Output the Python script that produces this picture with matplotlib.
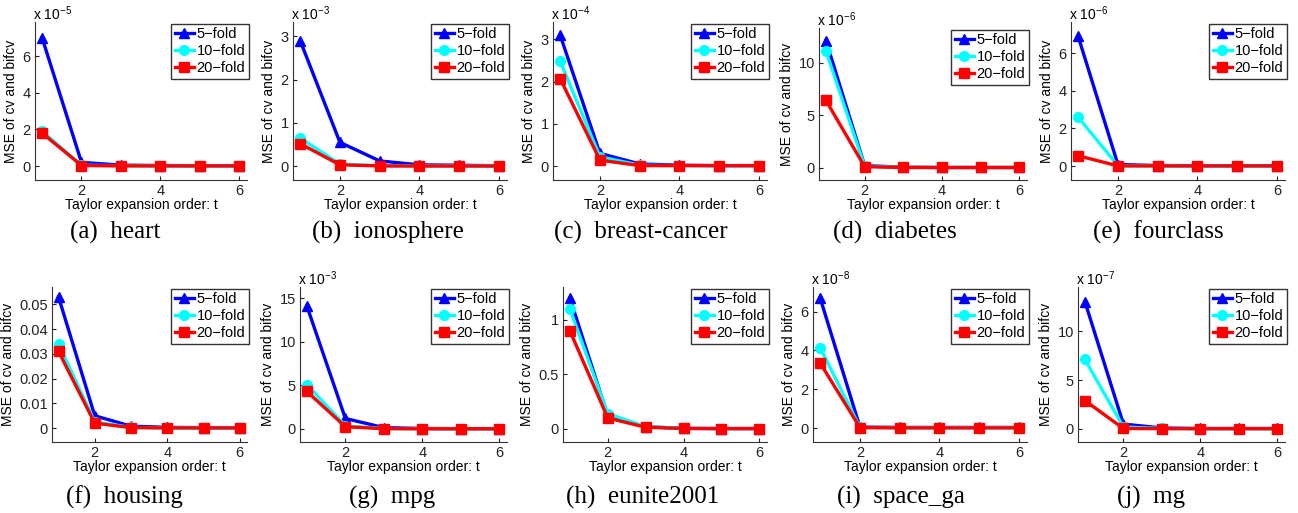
import numpy as np
import matplotlib
matplotlib.use("Agg")
import matplotlib.pyplot as plt
from matplotlib.ticker import FormatStrFormatter

plt.rcParams["font.family"] = ["Liberation Sans", "DejaVu Sans"]
plt.rcParams["mathtext.fontset"] = "custom"
plt.rcParams["mathtext.rm"] = "Liberation Sans"

# Taylor expansion order
orders = [1, 2, 3, 4, 5, 6]

datasets = ["heart", "ionosphere", "breast-cancer", "diabetes", "fourclass",
            "housing", "mpg", "eunite2001", "space_ga", "mg"]
letters = ["a", "b", "c", "d", "e", "f", "g", "h", "i", "j"]
# values below are given in units of 10^exponent
exponents = [-5, -3, -4, -6, -6, 0, -3, 0, -8, -7]

mse_5fold = [
    [7.0, 0.20, 0.05, 0.03, 0.02, 0.02],
    [2.9, 0.55, 0.12, 0.03, 0.02, 0.01],
    [3.1, 0.30, 0.05, 0.02, 0.01, 0.01],
    [12.1, 0.20, 0.05, 0.02, 0.02, 0.02],
    [6.9, 0.08, 0.03, 0.02, 0.02, 0.02],
    [0.053, 0.005, 0.0008, 0.0003, 0.0002, 0.0002],
    [14.1, 1.2, 0.15, 0.05, 0.03, 0.03],
    [1.2, 0.12, 0.02, 0.005, 0.003, 0.003],
    [6.7, 0.05, 0.03, 0.03, 0.03, 0.03],
    [13.0, 0.5, 0.1, 0.05, 0.05, 0.05],
]
mse_10fold = [
    [1.9, 0.05, 0.02, 0.01, 0.01, 0.01],
    [0.65, 0.05, 0.01, 0.005, 0.005, 0.005],
    [2.48, 0.22, 0.02, 0.01, 0.01, 0.01],
    [11.1, 0.15, 0.03, 0.02, 0.02, 0.02],
    [2.6, 0.02, 0.01, 0.01, 0.01, 0.01],
    [0.034, 0.0025, 0.0003, 0.0001, 0.0001, 0.0001],
    [5.1, 0.35, 0.05, 0.02, 0.02, 0.02],
    [1.1, 0.14, 0.02, 0.005, 0.003, 0.003],
    [4.15, 0.03, 0.02, 0.02, 0.02, 0.02],
    [7.1, 0.2, 0.05, 0.03, 0.03, 0.03],
]
mse_20fold = [
    [1.8, 0.03, 0.01, 0.01, 0.01, 0.01],
    [0.52, 0.03, 0.005, 0.003, 0.003, 0.003],
    [2.07, 0.14, 0.01, 0.01, 0.01, 0.01],
    [6.4, 0.10, 0.02, 0.02, 0.02, 0.02],
    [0.55, 0.01, 0.01, 0.01, 0.01, 0.01],
    [0.031, 0.002, 0.0002, 0.0001, 0.0001, 0.0001],
    [4.3, 0.25, 0.03, 0.02, 0.02, 0.02],
    [0.9, 0.1, 0.015, 0.004, 0.003, 0.003],
    [3.35, 0.02, 0.01, 0.01, 0.01, 0.01],
    [2.9, 0.05, 0.03, 0.03, 0.03, 0.03],
]

yticks = [[0, 2, 4, 6], [0, 1, 2, 3], [0, 1, 2, 3], [0, 5, 10], [0, 2, 4, 6],
          [0, 0.01, 0.02, 0.03, 0.04, 0.05], [0, 5, 10, 15], [0, 0.5, 1],
          [0, 2, 4, 6], [0, 5, 10]]

# layout (pixels in a 1298x513 figure)
W, H = 1298, 513
lefts = [35, 293, 553, 819, 1071, 52, 300, 563, 813, 1078]
rights = [247, 507, 767, 1027, 1285, 247, 507, 767, 1027, 1285]
tops = [22, 22, 22, 28, 22, 287, 287, 287, 287, 287]
bottoms = [180, 180, 180, 180, 180, 442, 442, 442, 442, 442]
ylims = [(-0.76, 7.86), (-0.32, 3.33), (-0.33, 3.41), (-1.17, 13.3), (-0.74, 7.66),
         (-0.0056, 0.057), (-1.5, 16.3), (-0.12, 1.30), (-0.72, 7.27), (-1.33, 14.5)]
caption_x = [115, 388, 641, 895, 1158, 124, 392, 643, 901, 1151]
caption_y = [232, 232, 232, 232, 232, 497, 497, 497, 497, 497]

fig = plt.figure(figsize=(W / 100, H / 100), dpi=100)

styles = [("5\u2212fold", "#0000ff", "^"),
          ("10\u2212fold", "#00ffff", "o"),
          ("20\u2212fold", "#ff0000", "s")]

for k in range(10):
    ax = fig.add_axes([lefts[k] / W, 1 - bottoms[k] / H,
                       (rights[k] - lefts[k]) / W, (bottoms[k] - tops[k]) / H])
    for series, (lab, col, mk) in zip([mse_5fold, mse_10fold, mse_20fold], styles):
        ax.plot(orders, series[k], color=col, marker=mk, lw=2.4, ms=7,
                mec=col, mfc=col, label=lab)
    ax.set_xlim(0.82, 6.2)
    ax.set_ylim(*ylims[k])
    ax.set_xticks([2, 4, 6])
    ax.set_yticks(yticks[k])
    ax.yaxis.set_major_formatter(FormatStrFormatter("%g"))
    for s in ["top", "right"]:
        ax.spines[s].set_visible(False)
    for s in ["left", "bottom"]:
        ax.spines[s].set_color("#333333")
        ax.spines[s].set_linewidth(0.8)
    ax.tick_params(direction="in", length=3, labelsize=10.5, colors="#222222",
                   pad=3)
    ax.set_xlabel("Taylor expansion order: t", fontsize=10, labelpad=0)
    ax.set_ylabel("MSE of cv and bifcv", fontsize=10, labelpad=3)
    if exponents[k] != 0:
        ax.text(-0.01, 0.995, r"x 10$^{%d}$" % exponents[k], transform=ax.transAxes,
                ha="left", va="bottom", fontsize=10)
    leg = ax.legend(loc="upper right", bbox_to_anchor=(1.01, 0.99), fontsize=10.5,
                    frameon=True, fancybox=False, borderaxespad=0,
                    handlelength=1.3, handletextpad=0.2, labelspacing=0.2,
                    borderpad=0.25, markerscale=1.0)
    leg.get_frame().set_edgecolor("black")
    leg.get_frame().set_linewidth(1.0)
    fig.text(caption_x[k] / W, 1 - caption_y[k] / H,
             "(%s)  %s" % (letters[k], datasets[k]),
             ha="center", va="center", fontsize=18,
             family=["Liberation Serif", "DejaVu Serif"])

fig.savefig("out.png", dpi=100)
